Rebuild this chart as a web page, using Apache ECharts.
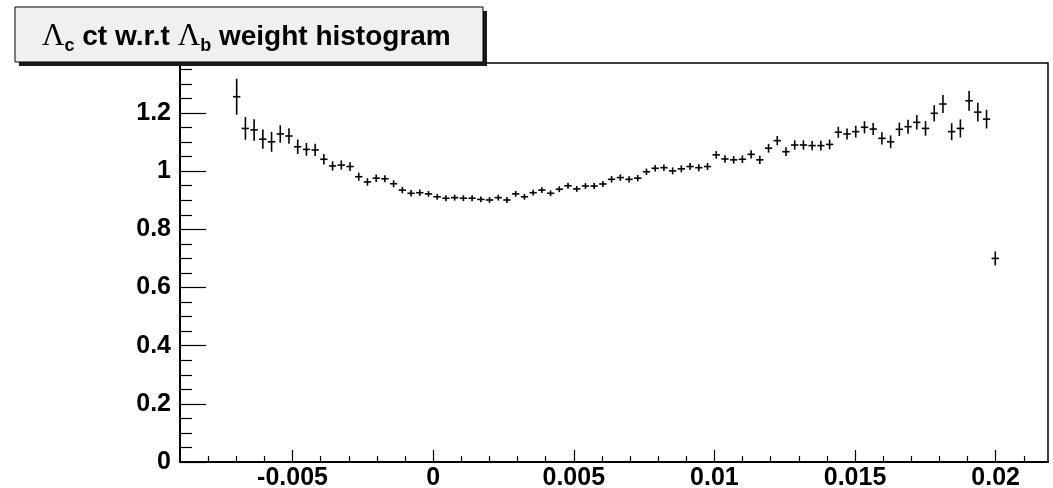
<!DOCTYPE html>
<html>
<head>
<meta charset="utf-8">
<script src="https://cdn.jsdelivr.net/npm/echarts@6/dist/echarts.min.js"></script>
<style>
  html, body { margin: 0; padding: 0; background: #ffffff; }
  #chart { width: 1053px; height: 488px; }
</style>
</head>
<body>
<div id="chart"></div>
<script>
// Histogram binning: 100 bins of width 0.00031 starting at -0.009; filled bins start at index 6
const histLow = -0.009;
const binWidth = 0.00031;
const firstBin = 6;
const xMax = 0.02186;

// Bin contents (weights) of the filled bins
const weights = [
  1.256, 1.147, 1.142, 1.110, 1.101, 1.128, 1.121, 1.084, 1.075, 1.073,
  1.041, 1.018, 1.021, 1.016, 0.981, 0.963, 0.976, 0.974, 0.957, 0.935,
  0.924, 0.926, 0.922, 0.912, 0.907, 0.909, 0.907, 0.907, 0.903, 0.901,
  0.909, 0.901, 0.922, 0.912, 0.926, 0.935, 0.924, 0.938, 0.950, 0.939,
  0.949, 0.949, 0.956, 0.972, 0.978, 0.972, 0.976, 0.998, 1.010, 1.012,
  1.001, 1.008, 1.016, 1.012, 1.016, 1.056, 1.042, 1.039, 1.041, 1.058,
  1.039, 1.079, 1.105, 1.067, 1.090, 1.090, 1.088, 1.088, 1.092, 1.134,
  1.128, 1.136, 1.151, 1.145, 1.113, 1.101, 1.144, 1.153, 1.168, 1.147,
  1.199, 1.231, 1.136, 1.147, 1.242, 1.203, 1.179, 0.700
];

// Statistical errors of the bin contents
const errors = [
  0.062, 0.039, 0.037, 0.033, 0.034, 0.030, 0.027, 0.025, 0.022, 0.021,
  0.018, 0.016, 0.016, 0.015, 0.014, 0.013, 0.013, 0.012, 0.012, 0.011,
  0.011, 0.011, 0.010, 0.010, 0.010, 0.010, 0.010, 0.010, 0.010, 0.010,
  0.010, 0.010, 0.010, 0.010, 0.010, 0.010, 0.010, 0.010, 0.010, 0.010,
  0.010, 0.010, 0.010, 0.011, 0.011, 0.011, 0.011, 0.011, 0.011, 0.011,
  0.012, 0.012, 0.012, 0.012, 0.012, 0.013, 0.013, 0.013, 0.013, 0.014,
  0.014, 0.015, 0.016, 0.015, 0.016, 0.016, 0.016, 0.017, 0.017, 0.019,
  0.019, 0.020, 0.021, 0.021, 0.021, 0.022, 0.023, 0.024, 0.025, 0.025,
  0.028, 0.031, 0.029, 0.031, 0.034, 0.032, 0.032, 0.024
];

// Axis ticks and labels
const xMajorTicks = [-0.005, 0, 0.005, 0.01, 0.015, 0.02];
const xMinorTicks = [-0.008, -0.007, -0.006, -0.004, -0.003, -0.002, -0.001,
  0.001, 0.002, 0.003, 0.004, 0.006, 0.007, 0.008, 0.009, 0.011, 0.012, 0.013,
  0.014, 0.016, 0.017, 0.018, 0.019, 0.021];
const yMax = 1.372;
const yMajorTicks = [0, 0.2, 0.4, 0.6, 0.8, 1, 1.2];
const yMinorTicks = [0.05, 0.1, 0.15, 0.25, 0.3, 0.35, 0.45, 0.5, 0.55, 0.65,
  0.7, 0.75, 0.85, 0.9, 0.95, 1.05, 1.1, 1.15, 1.25, 1.3, 1.35];

const titleParts = [
  { text: '\u039B', kind: 'greek' },
  { text: 'c', kind: 'sub' },
  { text: ' ct w.r.t ', kind: 'main' },
  { text: '\u039B', kind: 'greek' },
  { text: 'b', kind: 'sub' },
  { text: ' weight histogram', kind: 'main' }
];

// ---- build data ----
const points = weights.map((w, i) => {
  const center = histLow + (firstBin + i + 0.5) * binWidth;
  return [center, w, errors[i]];
});

const SANS = '"Liberation Sans", Arial, Helvetica, sans-serif';
const SERIF = '"Liberation Serif", "Times New Roman", serif';
const fonts = {
  greek: { font: 'normal 31px ' + SERIF, dy: 0 },
  sub: { font: 'bold 18px ' + SANS, dy: 9 },
  main: { font: 'bold 28px ' + SANS, dy: 0 }
};

// Lay out the title pieces one after another
const measureCtx = document.createElement('canvas').getContext('2d');
const titleElems = [];
let penX = 42;
const midY = 37;
titleParts.forEach(p => {
  const f = fonts[p.kind];
  measureCtx.font = f.font;
  titleElems.push({
    type: 'text',
    x: penX,
    y: midY + f.dy,
    z: 12,
    style: {
      text: p.text,
      font: f.font,
      fill: '#000000',
      verticalAlign: 'middle',
      align: 'left'
    }
  });
  penX += measureCtx.measureText(p.text).width;
});

const axisCommon = {
  type: 'value',
  min: histLow,
  max: xMax,
  splitLine: { show: false }
};
const tickStyle = { color: '#000', width: 1.2 };

const chart = echarts.init(document.getElementById('chart'), null, { renderer: 'canvas' });

chart.setOption({
  animation: false,
  backgroundColor: '#ffffff',
  grid: {
    left: 180, right: 5, top: 63, bottom: 26,
    containLabel: false,
    outerBoundsMode: 'none',
    show: true, borderColor: '#000000', borderWidth: 1.5
  },
  xAxis: [
    Object.assign({}, axisCommon, {
      position: 'bottom',
      axisLine: { show: true, onZero: false, lineStyle: { color: '#000', width: 2 } },
      axisTick: { show: true, inside: true, length: 12, customValues: xMajorTicks, lineStyle: tickStyle },
      axisLabel: {
        show: true, customValues: xMajorTicks, margin: 4,
        color: '#000', fontFamily: SANS, fontWeight: 'bold', fontSize: 25,
        formatter: v => String(v)
      }
    }),
    Object.assign({}, axisCommon, {
      position: 'bottom',
      axisLine: { show: false, onZero: false },
      axisTick: { show: true, inside: true, length: 6, customValues: xMinorTicks, lineStyle: tickStyle },
      axisLabel: { show: false }
    })
  ],
  yAxis: [
    {
      type: 'value', min: 0, max: yMax, position: 'left',
      splitLine: { show: false },
      axisLine: { show: true, onZero: false, lineStyle: { color: '#000', width: 2 } },
      axisTick: { show: true, inside: true, length: 26, customValues: yMajorTicks, lineStyle: tickStyle },
      axisLabel: {
        show: true, customValues: yMajorTicks, margin: 9,
        color: '#000', fontFamily: SANS, fontWeight: 'bold', fontSize: 25,
        formatter: v => String(v)
      }
    },
    {
      type: 'value', min: 0, max: yMax, position: 'left',
      splitLine: { show: false },
      axisLine: { show: false, onZero: false },
      axisTick: { show: true, inside: true, length: 12, customValues: yMinorTicks, lineStyle: tickStyle },
      axisLabel: { show: false }
    }
  ],
  series: [{
    type: 'custom',
    xAxisIndex: 0,
    yAxisIndex: 0,
    data: points,
    clip: true,
    renderItem: (params, api) => {
      const x = api.value(0);
      const y = api.value(1);
      const e = api.value(2);
      const hw = binWidth * 0.42;
      const top = api.coord([x, y + e]);
      const bot = api.coord([x, y - e]);
      const left = api.coord([x - hw, y]);
      const right = api.coord([x + hw, y]);
      const st = { stroke: '#000000', lineWidth: 1.6, fill: null };
      return {
        type: 'group',
        children: [
          { type: 'line', shape: { x1: top[0], y1: top[1], x2: bot[0], y2: bot[1] }, style: st },
          { type: 'line', shape: { x1: left[0], y1: left[1], x2: right[0], y2: right[1] }, style: st }
        ]
      };
    }
  }],
  graphic: [
    { type: 'rect', z: 10, shape: { x: 19, y: 11, width: 468, height: 55 },
      style: { fill: '#1a1a1a' } },
    { type: 'rect', z: 11, shape: { x: 15, y: 7, width: 468, height: 55 },
      style: { fill: '#f0f0f0', stroke: '#000000', lineWidth: 1 } }
  ].concat(titleElems)
});
</script>
</body>
</html>
